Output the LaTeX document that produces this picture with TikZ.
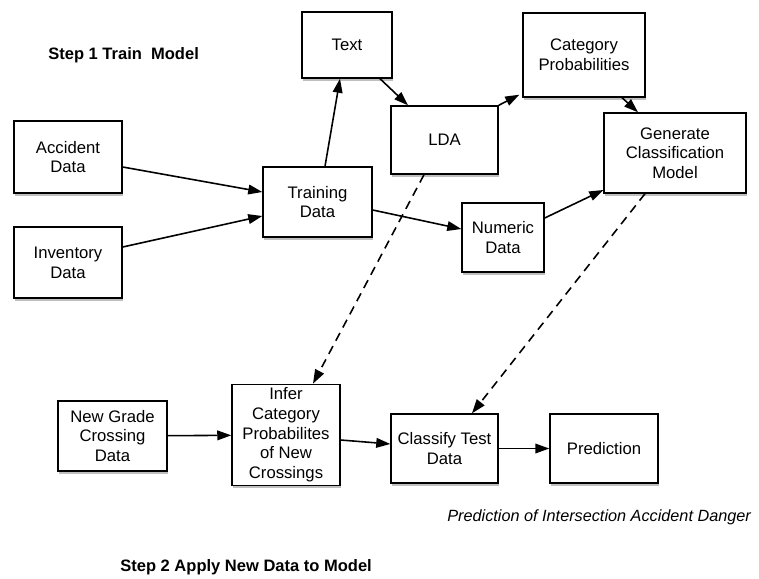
\documentclass[tikz,border=0pt]{standalone}
\usepackage{fontspec}
\setmainfont{Liberation Sans}
\usepackage{tikz}
\usetikzlibrary{positioning, arrows.meta, calc, shadows}

\begin{document}
\begin{tikzpicture}[
  x=0.02cm, y=-0.02cm,
  every node/.style = {font=\fontsize{9.5}{11.2}\selectfont},
  box/.style   = {draw, line width=0.8pt, fill=white, inner sep=2pt, align=center,
                  drop shadow={shadow xshift=0.7pt, shadow yshift=-1.5pt, fill=black!50}},
  arr/.style   = {-{Triangle[length=8pt, width=5.5pt]}, line width=0.9pt},
  dsh/.style   = {arr, dashed, dash pattern=on 5pt off 3.5pt},
  title/.style = {font=\fontsize{9.4}{11}\selectfont\bfseries, anchor=west, inner sep=0pt}
]
\useasboundingbox (0,0) rectangle (759,578);

\node[title] (s1) at (48,55)  {Step 1 Train~ Model};
\node[title] (s2) at (120,567) {Step 2 Apply New Data to Model};
\node[anchor=west, inner sep=0pt, font=\fontsize{9.25}{11}\selectfont\itshape] (cap) at (447,517)
  {Prediction of Intersection Accident Danger};

\node[box, minimum width=1.8cm,  minimum height=1.32cm] (text)  at (347,45)    {Text};
\node[box, minimum width=2.14cm, minimum height=1.36cm] (lda)   at (444.5,140) {LDA};
\node[box, minimum width=2.44cm, minimum height=1.68cm] (catp)  at (584,55)    {Category\\Probabilities};
\node[box, minimum width=2.84cm, minimum height=1.6cm]  (gen)   at (675,153)   {Generate\\Classification\\Model};
\node[box, minimum width=1.64cm, minimum height=1.38cm] (num)   at (503,237.5) {Numeric\\Data};
\node[box, minimum width=2.16cm, minimum height=1.44cm] (acc)   at (68,157)    {Accident\\Data};
\node[box, minimum width=2.16cm, minimum height=1.42cm] (inv)   at (68,262.5)  {Inventory\\Data};
\node[box, minimum width=2.18cm, minimum height=1.4cm]  (train) at (317.5,202)  {Training\\Data};
\node[box, minimum width=2.18cm, minimum height=1.4cm]  (ngc)   at (112.5,436) {New Grade\\Crossing\\Data};
\node[box, minimum width=2.16cm, minimum height=1.92cm] (infer) at (286,435)
  {Infer\\Category\\Probabilites\\of New\\Crossings};
\node[box, minimum width=2.14cm, minimum height=1.38cm] (cls)   at (444.5,448.5) {Classify Test\\Data};
\node[box, minimum width=2.16cm, minimum height=1.38cm] (pred)  at (604,448.5)   {Prediction};

\draw[arr] ([yshift=-0.2cm]acc.east)  -- ([yshift=0.2cm]train.west);
\draw[arr] ([yshift=0.31cm]inv.east)  -- ([yshift=-0.28cm]train.west);
\draw[arr] ([xshift=0.15cm]train.north) -- ([xshift=-0.14cm]text.south);
\draw[arr] ([xshift=0.66cm]text.south)  -- ([xshift=-0.73cm]lda.north);
\draw[arr] (lda.north east) -- ([xshift=-0.06cm,yshift=0.06cm]catp.south west);
\draw[arr] ([xshift=0.76cm]catp.south)  -- ([xshift=-0.74cm]gen.north);
\draw[arr] ([yshift=-0.16cm]train.east) -- ([yshift=0.17cm]num.west);
\draw[arr] ([yshift=0.39cm]num.east)    -- ([yshift=-0.74cm]gen.west);

\draw[dsh] ([xshift=-0.41cm]lda.south) -- ([xshift=0.54cm]infer.north);
\draw[dsh] ([xshift=-0.6cm]gen.south)  -- ([xshift=0.55cm]cls.north);

\draw[arr] (ngc) -- (infer);
\draw[arr] ([yshift=-0.1cm]infer.east) -- ([yshift=0.09cm]cls.west);
\draw[arr] (cls) -- (pred);

\end{tikzpicture}
\end{document}
